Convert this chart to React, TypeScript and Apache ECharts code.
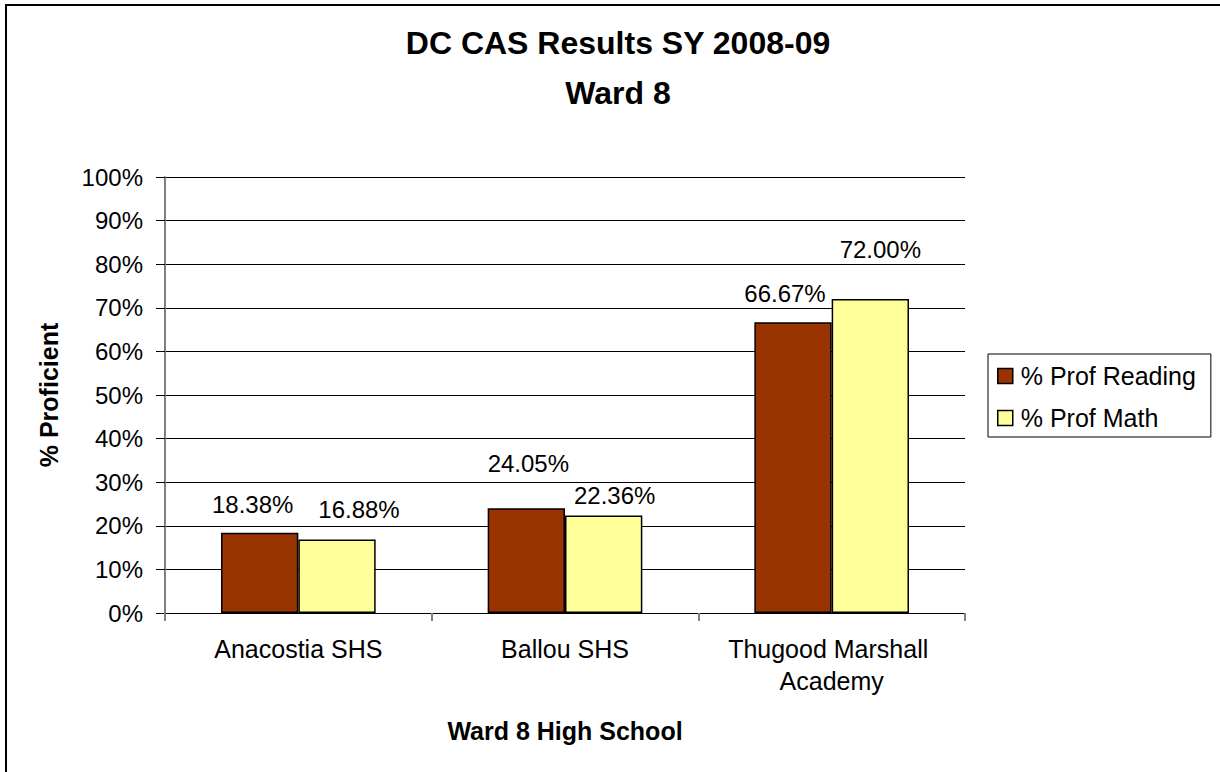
import React, { useEffect, useRef } from "react";
import * as echarts from "echarts";

const categories = ["Anacostia SHS", "Ballou SHS", "Thugood Marshall Academy"];
const readingValues = [18.38, 24.05, 66.67];
const mathValues = [16.88, 22.36, 72.0];
const seriesNames = ["% Prof Reading", "% Prof Math"];
const yTicks = [0, 10, 20, 30, 40, 50, 60, 70, 80, 90, 100];

// label placement offsets (style only)
const readingLabelOffsets = [[-7, -16], [2, -33], [-8, -17]];
const mathLabelOffsets = [[22, -18], [11, -8], [10, -38]];

const FONT = "'Liberation Sans', Arial, Helvetica, sans-serif";

export default function App() {
  const ref = useRef<HTMLDivElement>(null);
  useEffect(() => {
    if (!ref.current) return;
    const chart = echarts.init(ref.current, null, { renderer: "svg" });
    const makeData = (vals: number[], offs: number[][]) =>
      vals.map((v, i) => ({ value: v, label: { offset: offs[i] } }));
    const labelStyle = {
      show: true,
      position: "top",
      distance: 0,
      fontSize: 24,
      lineHeight: 24,
      color: "#000",
      fontFamily: FONT,
      formatter: (p: any) => p.value.toFixed(2) + "%",
    };
    chart.setOption({
      animation: false,
      backgroundColor: "#fff",
      textStyle: { fontFamily: FONT },
      title: {
        text: "DC CAS Results SY 2008-09\nWard 8",
        left: 613,
        top: 13,
        textAlign: "center",
        textStyle: { fontSize: 32, fontWeight: "bold", lineHeight: 50, color: "#000", fontFamily: FONT },
      },
      graphic: [
        {
          type: "rect",
          shape: { x: 6, y: 5, width: 1400, height: 1000 },
          style: { fill: "none", stroke: "#000", lineWidth: 2 },
          silent: true,
        },
      ],
      legend: {
        orient: "vertical",
        left: 988,
        top: 354,
        data: seriesNames,
        icon: "rect",
        itemWidth: 15,
        itemHeight: 15,
        itemGap: 12,
        padding: [7, 15, 4, 9],
        borderColor: "#000",
        borderWidth: 1,
        textStyle: { fontSize: 25, lineHeight: 30, color: "#000", fontFamily: FONT, padding: [0, 0, 0, 3] },
        itemStyle: { borderColor: "#000", borderWidth: 1.5 },
      },
      grid: { left: 165, right: 255, top: 177, bottom: 159, containLabel: false },
      xAxis: {
        type: "category",
        data: categories,
        name: "Ward 8 High School",
        nameLocation: "middle",
        nameGap: 105,
        nameTextStyle: { fontSize: 25, fontWeight: "bold", color: "#000", fontFamily: FONT },
        axisLine: { show: true, lineStyle: { color: "#000", width: 1 } },
        axisTick: { show: true, length: 8, lineStyle: { color: "#808080", width: 2 } },
        axisLabel: {
          interval: 0,
          fontSize: 25,
          lineHeight: 32,
          color: "#000",
          margin: 20,
          width: 240,
          overflow: "break",
          fontFamily: FONT,
        },
      },
      yAxis: {
        type: "value",
        min: 0,
        max: 100,
        interval: 10,
        name: "% Proficient",
        nameLocation: "middle",
        nameRotate: 90,
        nameGap: 104,
        nameTextStyle: { fontSize: 25, fontWeight: "bold", color: "#000", fontFamily: FONT },
        axisLine: { show: true, lineStyle: { color: "#808080", width: 2 } },
        axisTick: { show: true, length: 9, lineStyle: { color: "#000", width: 1 } },
        axisLabel: {
          fontSize: 24,
          color: "#000",
          margin: 22,
          fontFamily: FONT,
          formatter: (v: number) => (yTicks.includes(v) ? v + "%" : ""),
        },
        splitLine: { show: true, lineStyle: { color: "#000", width: 1 } },
      },
      series: [
        {
          name: seriesNames[0],
          type: "bar",
          data: makeData(readingValues, readingLabelOffsets),
          barGap: "0%",
          barCategoryGap: "42%",
          itemStyle: { color: "#993300", borderColor: "#000", borderWidth: 1.5 },
          label: labelStyle,
        },
        {
          name: seriesNames[1],
          type: "bar",
          data: makeData(mathValues, mathLabelOffsets),
          barGap: "0%",
          barCategoryGap: "42%",
          itemStyle: { color: "#FFFF99", borderColor: "#000", borderWidth: 1.5 },
          label: labelStyle,
        },
      ],
    });
    return () => chart.dispose();
  }, []);
  return (
    <div
      ref={ref}
      style={{ position: "fixed", left: 0, top: 0, width: 1220, height: 772 }}
    />
  );
}
